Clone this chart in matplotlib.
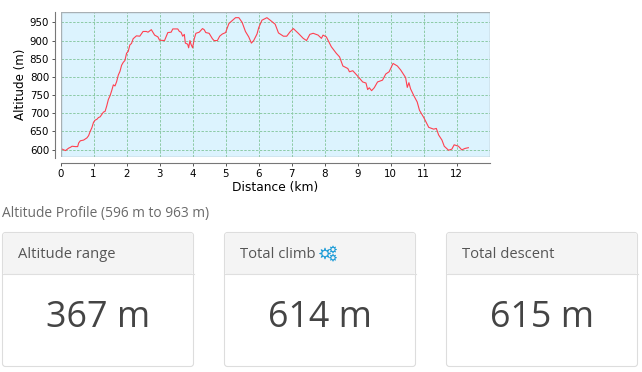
#!/usr/bin/python3
import matplotlib as mpl
mpl.use('Agg')
import matplotlib.pyplot as plt
from matplotlib.patches import FancyBboxPatch, Rectangle

W, H = 642, 372

distance_km = [0, .05, .15, .25, .3, .35, .45, .52, .55, .6, .7, .8, .85, .9, .95, 1.0, 1.05, 1.1, 1.15, 1.2,
               1.3, 1.35, 1.4, 1.45, 1.5, 1.55, 1.6, 1.65, 1.7, 1.75, 1.8, 1.85, 1.9, 1.95, 2.0, 2.05, 2.1,
               2.15, 2.2, 2.3, 2.4, 2.5, 2.6, 2.65, 2.75, 2.85, 2.95, 3.0, 3.15, 3.25, 3.35, 3.4, 3.55, 3.6,
               3.65, 3.7, 3.75, 3.78, 3.85, 3.88, 3.92, 3.95, 4.0, 4.05, 4.1, 4.2, 4.3, 4.35, 4.4, 4.5, 4.6,
               4.65, 4.75, 4.82, 4.9, 5.0, 5.05, 5.1, 5.2, 5.3, 5.4, 5.5, 5.6, 5.7, 5.78, 5.85, 5.95, 6.0,
               6.1, 6.25, 6.35, 6.5, 6.6, 6.75, 6.85, 6.95, 7.05, 7.2, 7.35, 7.45, 7.55, 7.65, 7.8, 7.9, 7.95,
               8.05, 8.2, 8.35, 8.45, 8.55, 8.7, 8.75, 8.85, 9.0, 9.15, 9.25, 9.3, 9.35, 9.42, 9.5, 9.6, 9.75,
               9.85, 9.95, 10.07, 10.2, 10.3, 10.45, 10.5, 10.55, 10.6, 10.7, 10.8, 10.87, 11.0, 11.15, 11.3,
               11.38, 11.45, 11.55, 11.62, 11.75, 11.85, 11.92, 12.05, 12.15, 12.25, 12.35]
altitude_m = [605, 601, 597, 604, 606, 609, 608, 608, 618, 624, 626, 632, 638, 650, 660, 675, 681, 683, 688, 690,
              703, 705, 720, 738, 748, 762, 778, 775, 787, 805, 815, 832, 840, 845, 865, 870, 888,
              892, 905, 913, 912, 925, 925, 923, 930, 915, 910, 901, 900, 922, 923, 932, 932, 925,
              923, 912, 917, 893, 890, 880, 900, 890, 880, 905, 920, 923, 933, 930, 922, 920, 905,
              900, 900, 912, 918, 922, 935, 947, 955, 963, 963, 950, 925, 910, 893, 900, 918, 935,
              956, 963, 956, 945, 921, 912, 912, 924, 933, 920, 906, 900, 917, 920, 915, 906, 915,
              910, 883, 865, 855, 830, 823, 814, 817, 802, 786, 783, 765, 770, 762, 770, 786, 791,
              808, 814, 837, 830, 819, 798, 771, 784, 767, 748, 731, 708, 688, 661, 656,
              658, 640, 626, 609, 598, 601, 613, 609, 599, 603, 605]

x_ticks = list(range(0, 13))
y_ticks = [600, 650, 700, 750, 800, 850, 900, 950]

summary_title = 'Altitude Profile (596 m to 963 m)'
card_titles = ['Altitude range', 'Total climb', 'Total descent']
card_values = ['367 m', '614 m', '615 m']

fig = plt.figure(figsize=(W / 100, H / 100), dpi=100)

# chart, position in pixels from the top left
left, right, top, bottom = 60.5, 489.5, 11.5, 157.5
ax = fig.add_axes([left / W, 1 - bottom / H, (right - left) / W, (bottom - top) / H])
ax.set_facecolor('#dcf3fe')
ax.plot(distance_km, altitude_m, color='#ff4050', lw=0.8, zorder=3)
ax.set_xlim(0, 12.99)
ax.set_ylim(578, 980)
ax.set_xticks(x_ticks)
ax.set_yticks(y_ticks)
ax.grid(True, color='#8ccaa6', ls=(0, (2.5, 1.5)), lw=0.7)
ax.set_axisbelow(True)
ax.tick_params(labelsize=7.4, length=2.5, width=0.7, color='#555555', pad=2)
ax.set_xlabel('Distance (km)', fontsize=8.8, labelpad=1.5)
ax.set_ylabel('Altitude (m)', fontsize=8.6, labelpad=2)
for s in ['top', 'right']:
    ax.spines[s].set_visible(False)
for s in ['left', 'bottom']:
    ax.spines[s].set_position(('outward', 3.7))
    ax.spines[s].set_color('#777777')
    ax.spines[s].set_linewidth(0.8)
ax.add_patch(Rectangle((0, 0), 1, 1, transform=ax.transAxes, fill=False, ec='#a8b0b4', lw=1.0, zorder=4))

# panel underneath, drawn in pixel coordinates
ov = fig.add_axes([0, 0, 1, 1], zorder=-1)
ov.set_xlim(0, W)
ov.set_ylim(H, 0)
ov.axis('off')

font = ['Open Sans', 'DejaVu Sans']
ov.text(2, 213, summary_title, fontsize=9.9, color='#6a6a6a', family=font, va='center')

card_left = [2.5, 224.5, 446.5]
card_w = 191
card_top, head_bottom, card_bottom = 232.5, 274, 366.5
for cx, title, value in zip(card_left, card_titles, card_values):
    ov.add_patch(FancyBboxPatch((cx, card_top), card_w, card_bottom - card_top,
                                boxstyle='round,pad=0,rounding_size=3', fc='white', ec='#dddddd', lw=0.8))
    ov.add_patch(FancyBboxPatch((cx + 0.5, card_top + 0.5), card_w - 1, head_bottom - card_top - 0.5,
                                boxstyle='round,pad=0,rounding_size=2', fc='#f4f4f4', ec='none'))
    ov.plot([cx, cx + card_w], [head_bottom, head_bottom], color='#dfdfdf', lw=0.8)
    ov.text(cx + 15, 254.5, title, fontsize=10.6, color='#555555', family=font, va='center')
    ov.text(cx + card_w / 2, 318, value, fontsize=25.8, color='#444444', family=font, va='center', ha='center')

# gears after Total climb
gear_x = [325, 333, 333]
gear_y = [253.5, 249.5, 257.7]
gear_size = [62, 26, 26]
hole_size = [14, 5, 5]
ov.scatter(gear_x, gear_y, s=gear_size, marker=(8, 1, 0), color='#1a9bd7', lw=0.6, zorder=5)
ov.scatter(gear_x, gear_y, s=hole_size, marker='o', color='#f4f4f4', lw=0, zorder=6)

fig.savefig('out.png', dpi=100)
